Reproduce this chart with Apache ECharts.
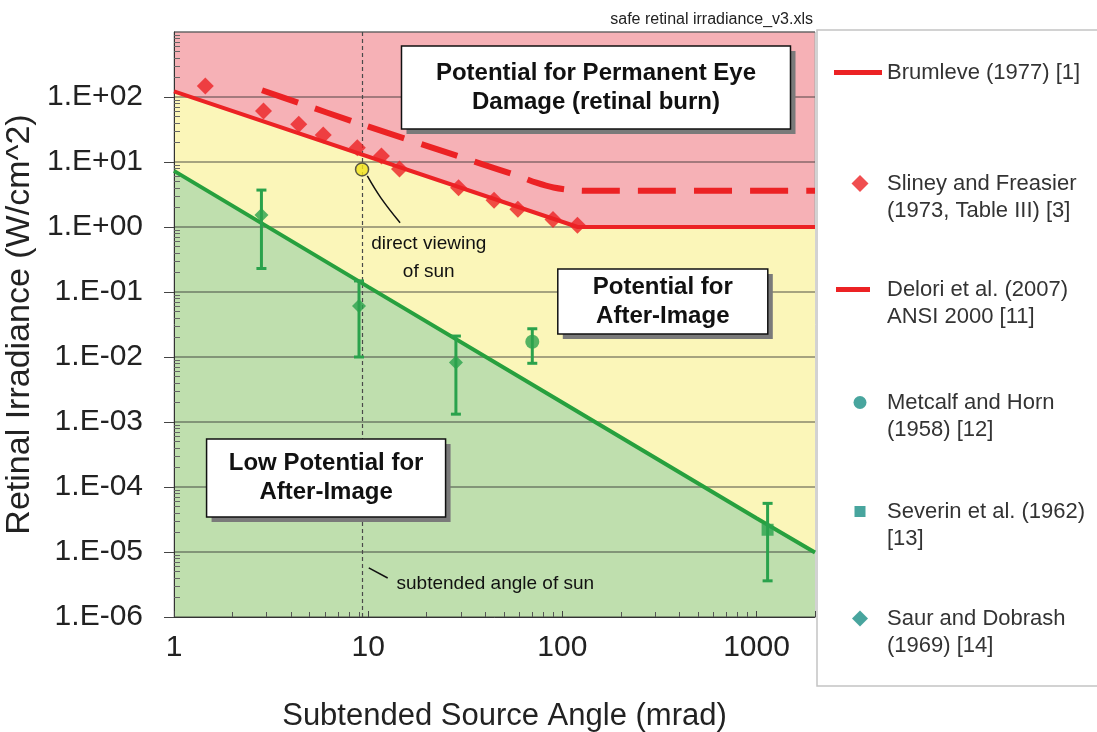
<!DOCTYPE html>
<html><head><meta charset="utf-8">
<script src="https://cdn.jsdelivr.net/npm/echarts@6/dist/echarts.min.js"></script>
<style>html,body{margin:0;padding:0;background:#fff}#c{width:1097px;height:732px}</style>
</head><body><div id="c"></div>
<script>
// ---------- data ----------
const xTickValues = [1, 10, 100, 1000];
const xTickLabels = ['1', '10', '100', '1000'];
const yTickValues = [1e-6, 1e-5, 1e-4, 1e-3, 1e-2, 1e-1, 1e0, 1e1, 1e2];
const yTickLabels = ['1.E-06', '1.E-05', '1.E-04', '1.E-03', '1.E-02', '1.E-01', '1.E+00', '1.E+01', '1.E+02'];

const brumleve = [[1, 122], [120, 1], [2000, 1]];
const delori = [[2.84, 127], [4.37, 81.6], [8.41, 41.7], [20.2, 17.6], [38.9, 9.2], [59, 6.1], [73.4, 4.8], [90, 4.05], [115, 3.67], [150, 3.6], [2000, 3.6]];
const sliney = [[1.45, 147], [2.89, 60.9], [4.39, 38.0], [5.87, 26.0], [8.79, 16.6], [11.7, 12.4], [14.5, 7.8], [29.2, 4.03], [44.5, 2.58], [59.0, 1.87], [89.5, 1.31], [119.6, 1.06]];
const greenBoundary = [[1, 7.3], [10, 0.12], [100, 0.002], [1000, 3.3e-5], [2000, 9.8e-6]];

const saurPoints = [[2.82, 1.53], [8.97, 0.061], [28.3, 0.0082]];
const saurErrors = [[2.82, 0.23, 3.7], [8.97, 0.01, 0.148], [28.3, 0.00132, 0.021]];
const metcalfPoints = [[70, 0.0172]];
const metcalfErrors = [[70, 0.008, 0.0272]];
const severinPoints = [[1140, 2.2e-5]];
const severinErrors = [[1140, 3.6e-6, 5.6e-5]];
const sunPoint = [[9.3, 7.7]];
const sunAngle = 9.3;

// ---------- styles ----------
const FONT = '"Liberation Sans", Arial, sans-serif';
const RED = '#ec2224';
const GREENLINE = '#27a03e';
const GREENMARK = '#2aa24c';
const TEAL = '#1a8f86';
const PINK = '#f6b1b6';
const YELLOW = '#fbf6b9';
const LIGHTGREEN = '#bfdfae';

const names = {
  brum: 'Brumleve (1977) [1]',
  sliney: 'Sliney and Freasier\n(1973, Table III) [3]',
  delori: 'Delori et al. (2007)\nANSI 2000 [11]',
  metcalf: 'Metcalf and Horn\n(1958) [12]',
  severin: 'Severin et al. (1962)\n[13]',
  saur: 'Saur and Dobrash\n(1969) [14]'
};

function labelFor(values, labels, v) {
  for (let i = 0; i < values.length; i++) {
    if (Math.abs(Math.log10(v) - Math.log10(values[i])) < 1e-6) return labels[i];
  }
  return '';
}

function errorBarItem(params, api) {
  const x = api.value(0), lo = api.value(1), hi = api.value(2);
  const pHi = api.coord([x, hi]);
  const pLo = api.coord([x, lo]);
  const w = 5;
  const st = { stroke: GREENMARK, lineWidth: 3 };
  return {
    type: 'group',
    children: [
      { type: 'line', shape: { x1: pHi[0], y1: pHi[1], x2: pLo[0], y2: pLo[1] }, style: st },
      { type: 'line', shape: { x1: pHi[0] - w, y1: pHi[1], x2: pHi[0] + w, y2: pHi[1] }, style: st },
      { type: 'line', shape: { x1: pLo[0] - w, y1: pLo[1], x2: pLo[0] + w, y2: pLo[1] }, style: st }
    ]
  };
}

// one legend component per entry so each entry can sit exactly like the reference
function legendBlock(item, top, left, iw, ih, padLeft, twoLine) {
  return {
    show: true, orient: 'vertical', left: left, top: top, padding: 0,
    itemWidth: iw, itemHeight: ih, selectedMode: false, z: 10, symbolKeepAspect: true,
    formatter: twoLine ? (n => '\n' + n) : (n => n),
    textStyle: { fontSize: 22, color: '#333', fontFamily: FONT, lineHeight: 27, padding: [0, 0, 0, padLeft] },
    data: [item]
  };
}

const chart = echarts.init(document.getElementById('c'), null, { renderer: 'canvas' });

const option = {
  animation: false,
  backgroundColor: '#fff',
  title: {
    text: 'safe retinal irradiance_v3.xls', right: 279, top: 7,
    textStyle: { fontSize: 16, fontWeight: 'normal', color: '#222', fontFamily: FONT }
  },
  grid: {
    left: 174, right: 282, top: 32, bottom: 115, outerBoundsMode: 'none', containLabel: false,
    show: true, backgroundColor: PINK, borderColor: '#a8a8a8', borderWidth: 1
  },
  legend: [
    legendBlock({ name: names.brum, icon: 'rect', itemStyle: { color: RED } }, 59, 834, 48, 5, 0, false),
    legendBlock({ name: names.sliney, icon: 'diamond', itemStyle: { color: RED } }, 143, 851.5, 17, 17, 13.5, true),
    legendBlock({ name: names.delori, icon: 'rect', itemStyle: { color: RED } }, 249, 836, 34, 5, 12, true),
    legendBlock({ name: names.metcalf, icon: 'circle', itemStyle: { color: TEAL } }, 362, 853.5, 13, 13, 15.5, true),
    legendBlock({ name: names.severin, icon: 'rect', itemStyle: { color: TEAL } }, 471, 854.5, 11, 11, 16.5, true),
    legendBlock({ name: names.saur, icon: 'diamond', itemStyle: { color: TEAL } }, 578, 852, 16, 16, 14, true)
  ],
  xAxis: {
    type: 'log', logBase: 10, min: 1, max: 2000, splitNumber: 3,
    name: 'Subtended Source Angle (mrad)', nameLocation: 'middle', nameGap: 84,
    nameTextStyle: { fontSize: 31, color: '#222', fontFamily: FONT, padding: [0, 0, 0, 20] },
    axisLine: { show: true, lineStyle: { color: '#333', width: 1 } },
    axisTick: { show: true, inside: true, length: 6, lineStyle: { color: '#444' } },
    minorTick: { show: true, splitNumber: 9, length: 5, lineStyle: { color: '#555' } },
    axisLabel: {
      fontSize: 30, color: '#222', fontFamily: FONT, margin: 16, showMaxLabel: false,
      formatter: v => labelFor(xTickValues, xTickLabels, v)
    },
    splitLine: { show: false }, z: 3
  },
  yAxis: [{
    type: 'log', logBase: 10, min: 1e-6, max: 1e3, splitNumber: 9,
    name: 'Retinal Irradiance (W/cm^2)', nameLocation: 'middle', nameGap: 127,
    nameTextStyle: { fontSize: 34, color: '#222', fontFamily: FONT },
    axisLine: { show: true, lineStyle: { color: '#333', width: 1 } },
    axisTick: { show: true, inside: false, length: 10, lineStyle: { color: '#444' } },
    axisLabel: {
      fontSize: 30, color: '#222', fontFamily: FONT, margin: 31, showMaxLabel: false,
      formatter: v => labelFor(yTickValues, yTickLabels, v)
    },
    splitLine: { show: true, lineStyle: { color: 'rgba(45,45,45,0.55)', width: 1.5 } },
    z: 3
  }, {
    type: 'log', logBase: 10, min: 1e-6, max: 1e3, splitNumber: 9, position: 'left',
    axisLine: { show: false }, axisLabel: { show: false }, splitLine: { show: false },
    axisTick: { show: false, inside: true },
    minorTick: { show: true, splitNumber: 9, length: 6, lineStyle: { color: '#666' } },
    z: 3
  }],
  series: [
    {
      name: 'yellowZone', type: 'line', data: brumleve, symbol: 'none', z: 1, silent: true,
      lineStyle: { width: 0 }, areaStyle: { color: YELLOW, opacity: 1, origin: 1e-6 }
    },
    {
      name: 'greenZone', type: 'line', data: greenBoundary, symbol: 'none', z: 1, silent: true,
      lineStyle: { width: 0 }, areaStyle: { color: LIGHTGREEN, opacity: 1, origin: 1e-6 },
      markLine: {
        silent: true, symbol: 'none', label: { show: false },
        lineStyle: { color: '#4a4a4a', width: 1.2, type: [4, 3] },
        data: [{ xAxis: sunAngle }]
      }
    },
    {
      name: names.brum, type: 'line', data: brumleve, symbol: 'none', z: 6,
      lineStyle: { color: RED, width: 4 }, itemStyle: { color: RED }
    },
    {
      name: names.delori, type: 'line', data: delori, symbol: 'none', z: 6, smooth: 0.3,
      lineStyle: { color: RED, width: 6, type: [38, 18] }, itemStyle: { color: RED }
    },
    {
      name: 'greenBoundary', type: 'line', data: greenBoundary, symbol: 'none', z: 6,
      lineStyle: { color: GREENLINE, width: 4 }
    },
    {
      name: names.sliney, type: 'scatter', data: sliney, symbol: 'diamond', symbolSize: 17, z: 7,
      itemStyle: { color: RED }
    },
    { name: 'saurErr', type: 'custom', data: saurErrors, renderItem: errorBarItem, encode: { x: 0, y: [1, 2] }, z: 7 },
    { name: 'metcalfErr', type: 'custom', data: metcalfErrors, renderItem: errorBarItem, encode: { x: 0, y: [1, 2] }, z: 7 },
    { name: 'severinErr', type: 'custom', data: severinErrors, renderItem: errorBarItem, encode: { x: 0, y: [1, 2] }, z: 7 },
    {
      name: names.saur, type: 'scatter', data: saurPoints, symbol: 'diamond', symbolSize: 14, z: 8,
      itemStyle: { color: GREENMARK }
    },
    {
      name: names.metcalf, type: 'scatter', data: metcalfPoints, symbol: 'circle', symbolSize: 14, z: 8,
      itemStyle: { color: GREENMARK }
    },
    {
      name: names.severin, type: 'scatter', data: severinPoints, symbol: 'rect', symbolSize: 12, z: 8,
      itemStyle: { color: GREENMARK }
    },
    {
      name: 'sun', type: 'scatter', data: sunPoint, symbol: 'circle', symbolSize: 13, z: 9,
      itemStyle: { color: '#f2e41c', borderColor: '#333', borderWidth: 1.5 }
    }
  ]
};

chart.setOption(option);

// ---------- annotations anchored in data coordinates ----------
const annotationBoxes = [
  { lines: 'Potential for Permanent Eye\nDamage (retinal burn)', at: [149, 140], w: 389, h: 83 },
  { lines: 'Potential for\nAfter-Image', at: [329, 0.0714], w: 210, h: 65 },
  { lines: 'Low Potential for\nAfter-Image', at: [6.07, 1.37e-4], w: 239, h: 78 }
];
const px = p => chart.convertToPixel({ xAxisIndex: 0, yAxisIndex: 0 }, p);
const graphics = [];
graphics.push({
  type: 'rect', shape: { x: 817, y: 30, width: 300, height: 656 },
  style: { fill: '#fff', stroke: '#c4c4c4', lineWidth: 1.5 }, z: 1, silent: true
});
annotationBoxes.forEach(b => {
  const c = px(b.at);
  const x0 = c[0] - b.w / 2, y0 = c[1] - b.h / 2;
  graphics.push({ type: 'rect', shape: { x: x0 + 5, y: y0 + 5, width: b.w, height: b.h }, style: { fill: '#7a7a7a' }, z: 20, silent: true });
  graphics.push({ type: 'rect', shape: { x: x0, y: y0, width: b.w, height: b.h }, style: { fill: '#fff', stroke: '#111', lineWidth: 1.5 }, z: 21, silent: true });
  graphics.push({
    type: 'text', x: c[0], y: c[1], z: 22, silent: true,
    style: { text: b.lines, fontSize: 24, fontWeight: 'bold', fontFamily: FONT, fill: '#111', align: 'center', verticalAlign: 'middle', lineHeight: 29 }
  });
});
const dv = px([20.5, 0.333]);
graphics.push({
  type: 'text', x: dv[0], y: dv[1], z: 22, silent: true,
  style: { text: 'direct viewing\nof sun', fontSize: 19, fontFamily: FONT, fill: '#111', align: 'center', verticalAlign: 'middle', lineHeight: 28 }
});
const sv = px([14.0, 3.22e-6]);
graphics.push({
  type: 'text', x: sv[0], y: sv[1], z: 22, silent: true,
  style: { text: 'subtended angle of sun', fontSize: 19, fontFamily: FONT, fill: '#111', align: 'left', verticalAlign: 'middle' }
});
const leader1 = [[9.9, 6.1], [11.6, 2.83], [14.6, 1.16]].map(px);
graphics.push({ type: 'polyline', shape: { points: leader1, smooth: 0.4 }, style: { stroke: '#111', lineWidth: 1.5, fill: null }, z: 22, silent: true });
const leader2 = [[10.07, 5.7e-6], [12.6, 3.98e-6]].map(px);
graphics.push({ type: 'polyline', shape: { points: leader2 }, style: { stroke: '#111', lineWidth: 1.5, fill: null }, z: 22, silent: true });

chart.setOption({ graphic: { elements: graphics } });
</script>
</body></html>
